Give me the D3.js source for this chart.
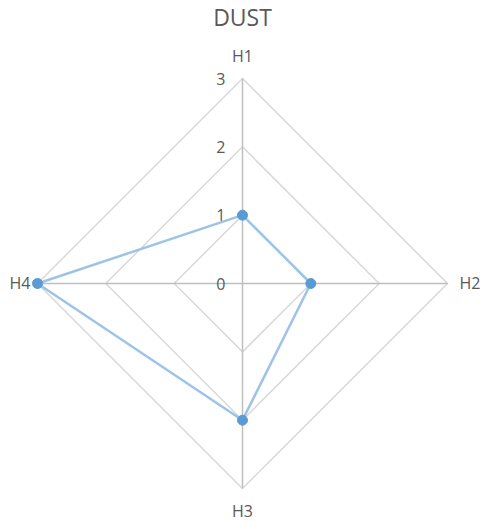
<!DOCTYPE html>
<html>
<head>
<meta charset="utf-8">
<script src="https://cdn.jsdelivr.net/npm/d3@7"></script>
<style>
  html, body { margin: 0; padding: 0; background: #fff; }
  svg { display: block; font-family: "Open Sans", "Liberation Sans", sans-serif; }
</style>
</head>
<body>
<svg id="chart" width="484" height="522"></svg>
<script>
// Radar chart data
const title = "DUST";
const categories = ["H1", "H2", "H3", "H4"];
const values = [1, 1, 2, 3];
const tickValues = [0, 1, 2, 3];

const width = 484, height = 522;
const cx = 242.5, cy = 283.5, radius = 205;

const svg = d3.select("#chart");

const r = d3.scaleLinear().domain([0, 3]).range([0, radius]);
const angle = d3.scalePoint().domain(categories).range([0, 2 * Math.PI * (categories.length - 1) / categories.length]);

const pos = (cat, v) => {
  const a = angle(cat) - Math.PI / 2;
  return [cx + r(v) * Math.cos(a), cy + r(v) * Math.sin(a)];
};

// Title
svg.append("text")
  .attr("x", cx).attr("y", 26)
  .attr("text-anchor", "middle")
  .attr("fill", "#595959")
  .attr("font-size", 23)
  .text(title);

// Grid rings
const g = svg.append("g");
tickValues.filter(t => t > 0).forEach(t => {
  const pts = categories.map(c => pos(c, t));
  g.append("path")
    .attr("d", d3.line()(pts) + "Z")
    .attr("fill", "none")
    .attr("stroke", "#d9d9d9")
    .attr("stroke-width", 1.5);
});

// Spokes
categories.forEach(c => {
  const [x, y] = pos(c, 3);
  g.append("line")
    .attr("x1", cx).attr("y1", cy).attr("x2", x).attr("y2", y)
    .attr("stroke", "#bfbfbf")
    .attr("stroke-width", 1.5);
});

// Tick labels, right-aligned left of the first spoke
tickValues.forEach(t => {
  const [x, y] = pos(categories[0], t);
  svg.append("text")
    .attr("x", x - 17)
    .attr("y", y + 6)
    .attr("text-anchor", "end")
    .attr("fill", "#595959")
    .attr("font-size", 16)
    .text(t);
});

// Category labels
const labelOffsets = { H1: [0, -17], H2: [12, 5], H3: [0, 28], H4: [-7, 5] };
categories.forEach(c => {
  const a = angle(c) - Math.PI / 2;
  const [x, y] = pos(c, 3);
  let anchor = "middle";
  if (Math.abs(Math.cos(a)) > 0.5) anchor = Math.cos(a) > 0 ? "start" : "end";
  svg.append("text")
    .attr("x", x + labelOffsets[c][0]).attr("y", y + labelOffsets[c][1])
    .attr("text-anchor", anchor)
    .attr("fill", "#595959")
    .attr("font-size", 16)
    .text(c);
});

// Series
const pts = categories.map((c, i) => pos(c, values[i]));
svg.append("path")
  .attr("d", d3.line()(pts) + "Z")
  .attr("fill", "none")
  .attr("stroke", "#9dc3e6")
  .attr("stroke-width", 2.5)
  .attr("stroke-linejoin", "round");

svg.selectAll("circle.pt")
  .data(categories)
  .join("circle")
  .attr("class", "pt")
  .attr("cx", (c, i) => pos(c, values[i])[0])
  .attr("cy", (c, i) => pos(c, values[i])[1])
  .attr("r", 5)
  .attr("fill", "#5b9bd5")
  .attr("stroke", "#5b9bd5")
  .attr("stroke-width", 1);
</script>
</body>
</html>
